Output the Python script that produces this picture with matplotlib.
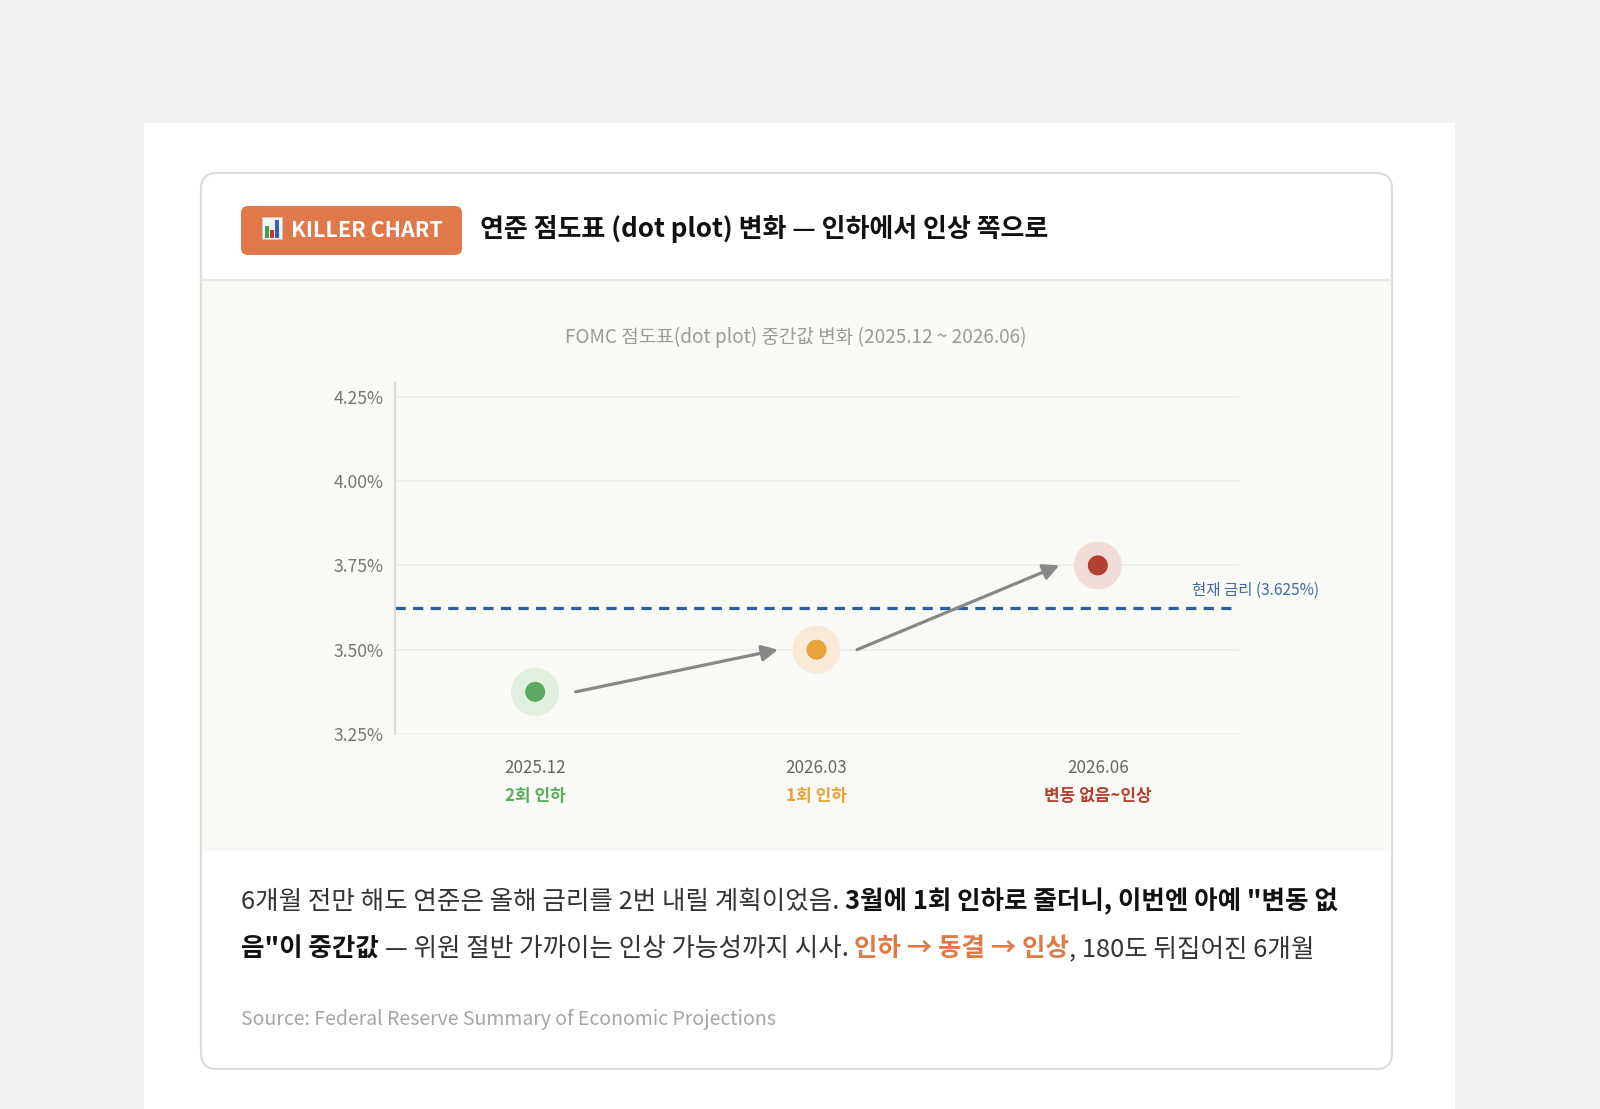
import matplotlib
matplotlib.use('Agg')
import matplotlib.pyplot as plt
from matplotlib.patches import FancyBboxPatch, Rectangle

plt.rcParams['font.family'] = ['Noto Sans CJK KR', 'DejaVu Sans']

# ---------------- data ----------------
periods = ['2025.12', '2026.03', '2026.06']
medians = [3.375, 3.50, 3.75]
stances = ['2회 인하', '1회 인하', '변동 없음~인상']
dot_colors = ['#5aab62', '#e8a33a', '#b4412f']
halo_colors = ['#e2eee0', '#f8ead6', '#f1ddd7']
current_rate = 3.625
current_label = '현재 금리 (3.625%)'
yticks = [3.25, 3.50, 3.75, 4.00, 4.25]
ytick_labels = ['3.25%', '3.50%', '3.75%', '4.00%', '4.25%']

badge_text = 'KILLER CHART'
title_text = '연준 점도표 (dot plot) 변화 — 인하에서 인상 쪽으로'
chart_title = 'FOMC 점도표(dot plot) 중간값 변화 (2025.12 ~ 2026.06)'
body_line1 = [('6개월 전만 해도 연준은 올해 금리를 2번 내릴 계획이었음. ', 'normal', '#333333'),
              ('3월에 1회 인하로 줄더니, 이번엔 아예 "변동 없', 'bold', '#111111')]
body_line2 = [('음"이 중간값', 'bold', '#111111'),
              (' — 위원 절반 가까이는 인상 가능성까지 시사. ', 'normal', '#333333'),
              ('인하 → 동결 → 인상', 'bold', '#e07a45'),
              (', 180도 뒤집어진 6개월', 'normal', '#333333')]
source_text = 'Source: Federal Reserve Summary of Economic Projections'

# ---------------- figure ----------------
W, H = 1600, 1109
fig = plt.figure(figsize=(W / 100, H / 100), dpi=100)
fig.patch.set_facecolor('#f2f2f2')
bg = fig.add_axes([0, 0, 1, 1])
bg.set_xlim(0, W)
bg.set_ylim(H, 0)
bg.axis('off')

PX = 0.72  # points per pixel

# white panel
bg.add_patch(Rectangle((144, 122.5), 1455 - 144, H - 122.5 + 5, facecolor='white', edgecolor='none'))
# card
bg.add_patch(FancyBboxPatch((201, 173), 1392 - 201, 1069 - 173,
                            boxstyle='round,pad=0,rounding_size=16',
                            facecolor='white', edgecolor='#dfddd7', lw=1.6))
# chart area background
bg.add_patch(Rectangle((202, 280), 1391 - 202, 851 - 280, facecolor='#f9f9f5', edgecolor='none'))
bg.plot([202, 1391], [280, 280], color='#ece9e3', lw=1.6)

# badge
bg.add_patch(FancyBboxPatch((241, 206), 462 - 241, 255 - 206,
                            boxstyle='round,pad=0,rounding_size=7',
                            facecolor='#e0784a', edgecolor='none'))
# small chart icon
bg.add_patch(Rectangle((262, 217), 19.5, 22, facecolor='#f3f3f3', edgecolor='#c9c9c9', lw=0.6))
bg.add_patch(Rectangle((264.5, 226), 4.5, 12, facecolor='#3fa34a', edgecolor='none'))
bg.add_patch(Rectangle((269.5, 230), 4.5, 8, facecolor='#c53a25', edgecolor='none'))
bg.add_patch(Rectangle((274.5, 220), 4.5, 18, facecolor='#3460b8', edgecolor='none'))
bg.text(291, 230.5, badge_text, fontsize=21.5 * PX, fontweight='bold', color='white',
        ha='left', va='center')

# title
bg.text(480, 228.5, title_text, fontsize=26 * PX, fontweight='bold', color='#111111',
        ha='left', va='center')

# chart subtitle
bg.text(796, 337, chart_title, fontsize=19 * PX, color='#9a9a9a', ha='center', va='center')

# ---------------- chart axes ----------------
x_left, x_right = 394.5, 1238.5
y_top_px, y_bot_px = 383, 734
ax = fig.add_axes([x_left / W, 1 - y_bot_px / H, (x_right - x_left) / W, (y_bot_px - y_top_px) / H])
ax.patch.set_visible(False)
ax.set_xlim(-0.5, 2.5)
ax.set_ylim(3.25, 3.25 + (y_bot_px - y_top_px) / 337.2)

for s in ['top', 'right', 'bottom']:
    ax.spines[s].set_visible(False)
ax.spines['left'].set_color('#dcdad4')
ax.spines['left'].set_linewidth(1.5)

ax.set_yticks(yticks)
ax.set_yticklabels(ytick_labels)
ax.yaxis.grid(True, color='#eeede8', lw=1.2)
ax.set_axisbelow(True)
ax.tick_params(axis='y', length=0, pad=11 * PX, labelsize=17.5 * PX, labelcolor='#777777')

xs = list(range(len(periods)))
ax.set_xticks(xs)
ax.set_xticklabels(periods)
ax.tick_params(axis='x', length=0, pad=25 * PX, labelsize=17 * PX, labelcolor='#666666')

for i, (st, c) in enumerate(zip(stances, dot_colors)):
    ax.annotate(st, xy=(i, 0), xycoords=('data', 'axes fraction'),
                xytext=(0, -62 * PX), textcoords='offset points',
                ha='center', va='center', fontsize=17 * PX, fontweight='bold', color=c,
                annotation_clip=False)

# current rate line
ax.plot([-0.5, 2.48], [current_rate, current_rate], color='#2f5f9b', lw=2.3,
        linestyle=(0, (3.2, 2.3)), zorder=2)
ax.text(2.56, current_rate + 0.05, current_label, fontsize=15.5 * PX, color='#3e6ba3',
        ha='center', va='center', clip_on=False)

# dots
ax.scatter(xs, medians, s=(48 * PX) ** 2, c=halo_colors, edgecolors='none', zorder=3)
ax.scatter(xs, medians, s=(20 * PX) ** 2, c=dot_colors, edgecolors='none', zorder=4)

# arrows between consecutive dots
for i in range(len(xs) - 1):
    ax.annotate('', xy=(xs[i + 1] - 0.137, medians[i + 1]), xytext=(xs[i] + 0.144, medians[i]),
                arrowprops=dict(arrowstyle='-|>', color='#888888', lw=2.3,
                                mutation_scale=24, shrinkA=0, shrinkB=0), zorder=3)

# ---------------- body text ----------------
renderer = fig.canvas.get_renderer()


def text_width(s, size, weight):
    t = bg.text(0, 0, s, fontsize=size, fontweight=weight)
    w = t.get_window_extent(renderer=renderer).width
    t.remove()
    return w


def rich_line(x, y, parts, size):
    sp = text_width('x x', size, 'normal') - text_width('xx', size, 'normal')
    for txt, weight, color in parts:
        lead = len(txt) - len(txt.lstrip(' '))
        core = txt.strip(' ')
        trail = len(txt) - len(txt.rstrip(' '))
        x += lead * sp
        t = bg.text(x, y, core, fontsize=size, fontweight=weight, color=color,
                    ha='left', va='baseline')
        x += t.get_window_extent(renderer=renderer).width
        x += trail * sp


body_size = 25.5 * PX
rich_line(241, 909, body_line1, body_size)
rich_line(241, 956, body_line2, body_size)

bg.text(241, 1019, source_text, fontsize=19.5 * PX, color='#a5a5a5', ha='left', va='center')

fig.savefig('out.png', dpi=100, facecolor=fig.get_facecolor())
